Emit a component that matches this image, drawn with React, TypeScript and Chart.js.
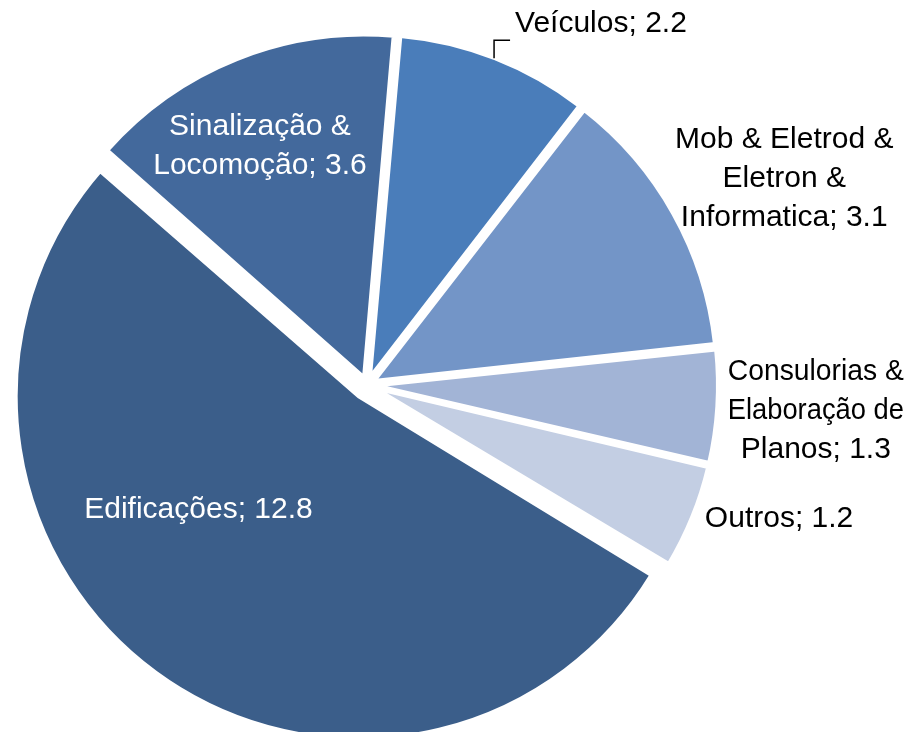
import React, { useEffect, useRef } from "react";
import { Chart, registerables } from "chart.js";

Chart.register(...registerables);

// ---- data ----
const categories = [
  "Veículos",
  "Mob & Eletrod & Eletron & Informatica",
  "Consulorias & Elaboração de Planos",
  "Outros",
  "Edificações",
  "Sinalização & Locomoção",
];
const values = [2.2, 3.1, 1.3, 1.2, 12.8, 3.6];
const labelLines = [
  ["Veículos; 2.2"],
  ["Mob & Eletrod &", "Eletron &", "Informatica; 3.1"],
  ["Consulorias &", "Elaboração de", "Planos; 1.3"],
  ["Outros; 1.2"],
  ["Edificações; 12.8"],
  ["Sinalização &", "Locomoção; 3.6"],
];

// ---- style ----
const colors = ["#4A7DBA", "#7395C7", "#A2B4D6", "#C3CEE3", "#3B5E8A", "#43699C"];
const explodePx = [8, 8, 8, 8, 14, 8];
const PIE_RADIUS = 343;
const LABEL_R = 337;
const FONT = "30px 'Liberation Sans', Arial, sans-serif";
const LINE_H = 39;
// label layout relative to slice mid-angle: f = fraction of LABEL_R, dx/dy nudge (px) to first baseline
const labelLayout = [
  { f: 1.035, dx: 0, dy: -2, color: "#000", leader: true, maxW: 0 },
  { f: 1.15, dx: 79, dy: -48, color: "#000", leader: false, maxW: 0 },
  { f: 1.15, dx: 62, dy: -29, color: "#000", leader: false, maxW: 176 },
  { f: 1.15, dx: 53, dy: -4, color: "#000", leader: false, maxW: 0 },
  { f: 0.6, dx: -49, dy: -30, color: "#fff", leader: false, maxW: 0 },
  { f: 0.72, dx: -17, dy: -25, color: "#fff", leader: false, maxW: 0 },
];

const radiusFix = {
  id: "radiusFix",
  beforeDatasetsDraw(chart: any) {
    const meta = chart.getDatasetMeta(0);
    meta.data.forEach((el: any) => {
      const off = (el.options.offset || 0) / 4;
      const circ = el.endAngle - el.startAngle;
      const fix = 1 - Math.sin(Math.min(Math.PI, circ));
      el.outerRadius = PIE_RADIUS - off * fix;
    });
  },
};

const pieLabels = {
  id: "pieLabels",
  afterDatasetsDraw(chart: any) {
    const ctx = chart.ctx;
    const meta = chart.getDatasetMeta(0);
    ctx.save();
    ctx.font = FONT;
    meta.data.forEach((el: any, i: number) => {
      const lay = labelLayout[i];
      const mid = (el.startAngle + el.endAngle) / 2;
      const ax = el.x + Math.cos(mid) * lay.f * LABEL_R;
      const ay = el.y + Math.sin(mid) * lay.f * LABEL_R + lay.dy;
      ctx.fillStyle = lay.color;
      ctx.textBaseline = "alphabetic";
      if (lay.leader) {
        ctx.strokeStyle = "#000";
        ctx.lineWidth = 1.5;
        ctx.beginPath();
        ctx.moveTo(ax, ay);
        ctx.lineTo(ax, ay - 18);
        ctx.lineTo(ax + 16, ay - 18);
        ctx.stroke();
        ctx.textAlign = "left";
        ctx.fillText(labelLines[i][0], ax + 21, ay - 26);
      } else {
        ctx.textAlign = "center";
        labelLines[i].forEach((line, k) => {
          if (lay.maxW) ctx.fillText(line, ax + lay.dx, ay + k * LINE_H, lay.maxW);
          else ctx.fillText(line, ax + lay.dx, ay + k * LINE_H);
        });
      }
    });
    ctx.restore();
  },
};

export default function App() {
  const ref = useRef<HTMLCanvasElement | null>(null);
  useEffect(() => {
    if (!ref.current) return;
    const chart = new Chart(ref.current, {
      type: "pie",
      data: {
        labels: categories,
        datasets: [
          {
            data: values,
            backgroundColor: colors,
            borderColor: "#ffffff",
            borderWidth: 4,
            offset: explodePx.map((v) => v * 4),
          },
        ],
      },
      options: {
        animation: false,
        responsive: true,
        maintainAspectRatio: false,
        radius: PIE_RADIUS,
        rotation: 5,
        layout: { padding: { left: 0, right: 175, top: 38, bottom: 0 } },
        plugins: {
          legend: { display: false },
          tooltip: { enabled: false },
        },
      } as any,
      plugins: [radiusFix, pieLabels],
    });
    return () => chart.destroy();
  }, []);
  return (
    <div style={{ position: "fixed", left: 0, top: 0, width: 909, height: 732, background: "#fff" }}>
      <canvas ref={ref} />
    </div>
  );
}
